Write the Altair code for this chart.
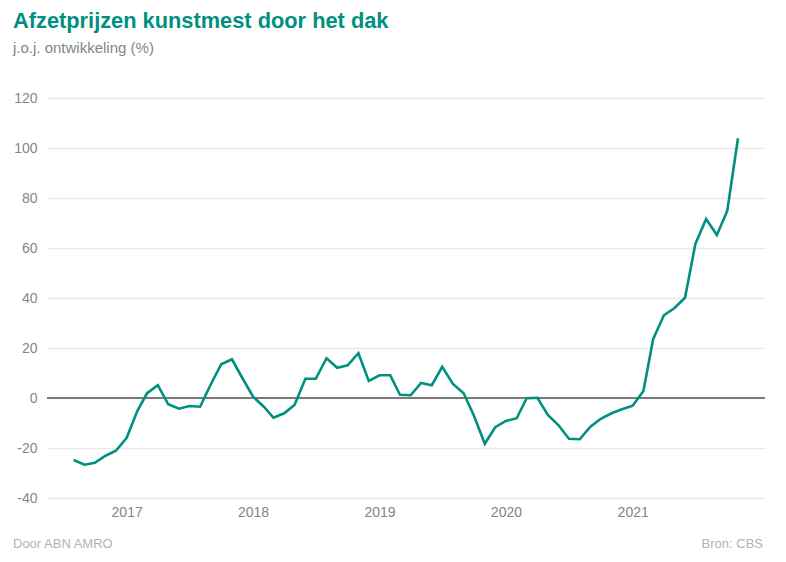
import altair as alt
import pandas as pd

# Monthly year-on-year change, Aug 2016 - Nov 2021
start_month = "2016-08-01"
values = [
    -24.8, -26.7, -25.9, -23.1, -21.1,                                   # 2016 Aug-Dec
    -15.9, -5.1, 1.9, 5.1, -2.5, -4.3, -3.2, -3.5, 5.5, 13.5, 15.5, 8.0,  # 2017
    0.5, -3.5, -7.9, -6.1, -2.7, 7.7, 7.7, 15.9, 12.1, 13.1, 17.9, 6.8,   # 2018
    9.1, 9.1, 1.3, 1.1, 6.0, 5.1, 12.5, 5.6, 1.9, -7.2, -18.3, -11.7,     # 2019
    -9.2, -8.1, -0.1, 0.1, -6.8, -10.9, -16.3, -16.5, -11.5, -8.3, -6.1, -4.5,  # 2020
    -3.1, 2.8, 23.5, 33.1, 35.9, 40.1, 61.6, 71.6, 65.2, 74.8, 103.9,     # 2021 Jan-Nov
]
dates = pd.date_range(start_month, periods=len(values), freq="MS").strftime("%Y-%m-%d").tolist()
y_ticks = [-40, -20, 0, 20, 40, 60, 80, 100, 120]
x_years = [2017, 2018, 2019, 2020, 2021]

title = "Afzetprijzen kunstmest door het dak"
subtitle = "j.o.j. ontwikkeling (%)"
footer_left = "Door ABN AMRO"
footer_right = "Bron: CBS"

df = pd.DataFrame({"date": dates, "value": values})
one = pd.DataFrame({"a": [0]})

TEAL = "#00907f"
GREY = "#80868b"
FONT = "Liberation Sans"

x_scale = alt.Scale(
    type="utc",
    domain=[alt.DateTime(year=2016, month=5, date=16, utc=True),
            alt.DateTime(year=2022, month=1, date=18, utc=True)],
)
y_scale = alt.Scale(domain=[-40, 120], nice=False)

line = alt.Chart(df).mark_line(color=TEAL, strokeWidth=2.6, strokeJoin="miter").encode(
    x=alt.X("date:T", scale=x_scale,
            axis=alt.Axis(values=[alt.DateTime(year=y, month=1, date=1, utc=True) for y in x_years],
                          format="%Y", title=None, grid=False, domain=False, ticks=False,
                          labelColor=GREY, labelFontSize=14, labelFont=FONT, labelPadding=7)),
    y=alt.Y("value:Q", scale=y_scale,
            axis=alt.Axis(values=y_ticks, title=None, grid=True, gridColor="#e9e9e9",
                          gridWidth=1.6, domain=False, ticks=False, labelColor=GREY,
                          labelExpr="toString(datum.value)",
                          labelFontSize=14, labelFont=FONT, labelPadding=10)),
)

zero = alt.Chart(one).mark_rule(color="#7a7a7a", strokeWidth=1.8).encode(
    y=alt.Y("z:Q", scale=y_scale), x=alt.value(0), x2=alt.value(718)
).transform_calculate(z="0")

t_title = alt.Chart(one).mark_text(align="left", baseline="alphabetic", font=FONT,
                                   fontSize=21.8, fontWeight="bold", color=TEAL).encode(
    x=alt.value(-34), y=alt.value(-70), text=alt.value(title))
t_sub = alt.Chart(one).mark_text(align="left", baseline="alphabetic", font=FONT,
                                 fontSize=15, color=GREY).encode(
    x=alt.value(-34), y=alt.value(-45), text=alt.value(subtitle))
t_fl = alt.Chart(one).mark_text(align="left", baseline="alphabetic", font=FONT,
                                fontSize=13, color="#b3b3b3").encode(
    x=alt.value(-34), y=alt.value(450), text=alt.value(footer_left))
t_fr = alt.Chart(one).mark_text(align="right", baseline="alphabetic", font=FONT,
                                fontSize=13, color="#b3b3b3").encode(
    x=alt.value(716), y=alt.value(450), text=alt.value(footer_right))

chart = alt.layer(zero, line, t_title, t_sub, t_fl, t_fr).properties(
    width=718, height=400,
    background="white",
    padding={"left": 39, "top": 90, "right": 13, "bottom": 56},
    autosize=alt.AutoSizeParams(type="none"),
).configure_view(stroke=None)

chart.save("out.html", embed_options={"renderer": "svg", "actions": False})
